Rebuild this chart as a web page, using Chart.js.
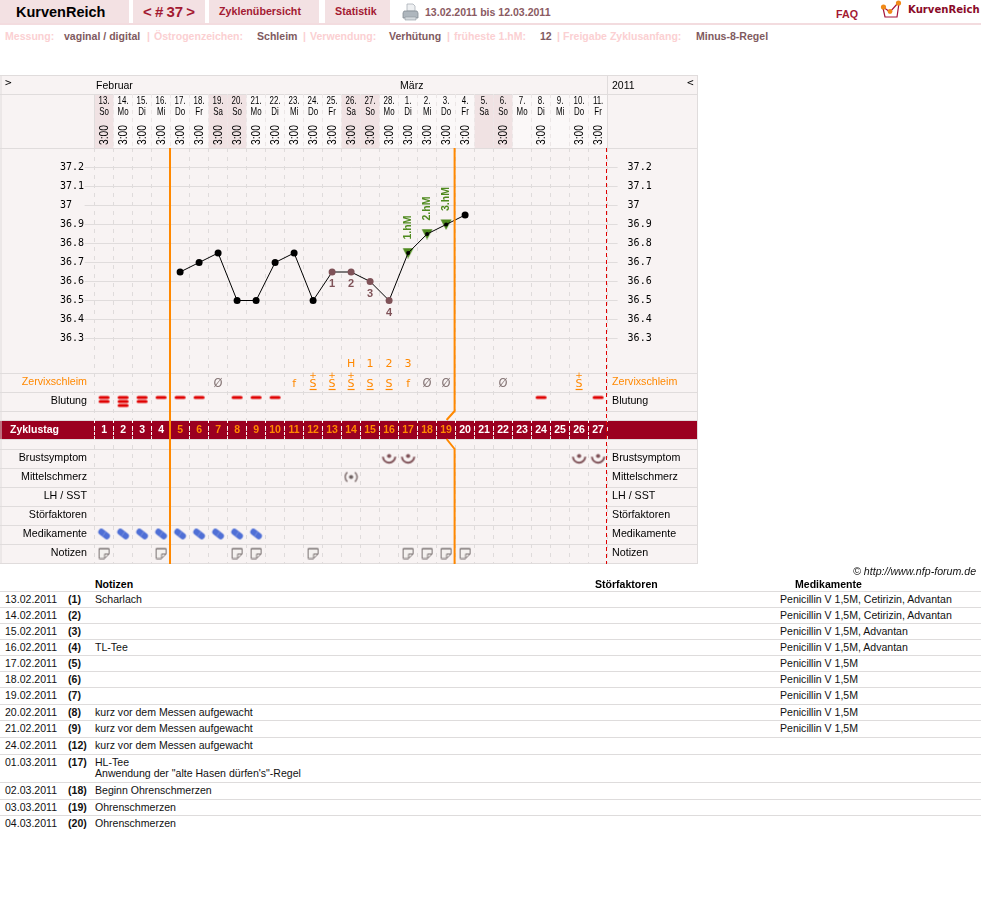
<!DOCTYPE html>
<html lang="de">
<head>
<meta charset="utf-8">
<title>KurvenReich – Zyklus 37</title>
<script src="https://cdn.jsdelivr.net/npm/chart.js@4"></script>
<style>
  html, body { margin: 0; padding: 0; background: #fff; }
  body { width: 981px; height: 897px; position: relative; overflow: hidden;
         font-family: "Liberation Sans", Arial, sans-serif; }
  .abs { position: absolute; white-space: nowrap; line-height: 1; }
  .tab { position: absolute; top: 0; height: 23px; background: #f3e1e3; }
  .rule { position: absolute; left: 0; width: 981px; height: 1px; background: #dedcdc; }
  #chartBox { position: absolute; left: 0; top: 75px; width: 698px; height: 496px; }
  canvas { display: block; }
</style>
</head>
<body>
<div class="tab" style="left:0;width:129px"></div>
<div class="tab" style="left:133px;width:72px"></div>
<div class="tab" style="left:209px;width:110px"></div>
<div class="tab" style="left:325px;width:65px"></div>
<div class="abs" style="left:0;top:23px;width:981px;height:2px;background:#f3dcdf"></div>
<svg class="abs" style="left:402px;top:3px" width="17" height="18" viewBox="0 0 17 18">
  <path d="M5 1h6l2 2v5H5z" fill="#eef0f2" stroke="#a9b0b8" stroke-width=".8"/>
  <path d="M2 8h13l1 2v5H1v-5z" fill="#aeb6bd" stroke="#858d95" stroke-width=".8"/>
  <path d="M3 14h11v3H3z" fill="#d4d9dd" stroke="#8f979e" stroke-width=".6"/>
</svg>
<svg class="abs" style="left:880px;top:0" width="24" height="20" viewBox="0 0 24 20">
  <path d="M3 8 L5 17 H17 L19 3" fill="#fff" stroke="#a5123a" stroke-width="1.2"/>
  <path d="M3 7 L10 12 L18 3" fill="none" stroke="#a5123a" stroke-width="1.2"/>
  <circle cx="3.5" cy="7" r="2.6" fill="#f08a18"/><circle cx="10" cy="11.5" r="2.4" fill="#f08a18"/><circle cx="18.5" cy="3" r="2.6" fill="#f08a18"/>
</svg>
<div id="pageText"></div>
<div id="chartBox"><canvas id="cycleChart" width="698" height="496"></canvas></div>
<div id="noteTable"></div>

<script>
// Cycle days, one entry per column
const dayOfMonth = ['13.','14.','15.','16.','17.','18.','19.','20.','21.','22.','23.','24.','25.','26.','27.','28.','1.','2.','3.','4.','5.','6.','7.','8.','9.','10.','11.'];
const weekdays = ['So','Mo','Di','Mi','Do','Fr','Sa','So','Mo','Di','Mi','Do','Fr','Sa','So','Mo','Di','Mi','Do','Fr','Sa','So','Mo','Di','Mi','Do','Fr'];
const measureTimes = ['3:00','3:00','3:00','3:00','3:00','3:00','3:00','3:00','3:00','3:00','3:00','3:00','3:00','3:00','3:00','3:00','3:00','3:00','3:00','3:00','','3:00','','3:00','','3:00','3:00'];
const cycleDays = [1,2,3,4,5,6,7,8,9,10,11,12,13,14,15,16,17,18,19,20,21,22,23,24,25,26,27];
const temperatures = [null,null,null,null,36.65,36.7,36.75,36.5,36.5,36.7,36.75,36.5,36.65,36.65,36.6,36.5,36.75,36.85,36.9,36.95,null,null,null,null,null,null,null];
const temperatureTicks = [37.2,37.1,37,36.9,36.8,36.7,36.6,36.5,36.4,36.3];

// Per-day observations
const highCount = [0,0,0,0,0,0,0,0,0,0,0,0,1,2,3,4,0,0,0,0,0,0,0,0,0,0,0];
const highMarks = ['','','','','','','','','','','','','','','','','1.hM','2.hM','3.hM','','','','','','','',''];
const peakMarks = ['','','','','','','','','','','','','','H','1','2','3','','','','','','','','','',''];
const mucus = ['','','','','','','Ø','','','','f','S+','S+','S+','S','S','f','Ø','Ø','','','Ø','','','','S+',''];
const bleeding = [2,3,2,1,1,1,0,1,1,1,0,0,0,0,0,0,0,0,0,0,0,0,0,1,0,0,1];
const breastSymptom = [0,0,0,0,0,0,0,0,0,0,0,0,0,0,0,1,1,0,0,0,0,0,0,0,0,1,1];
const midPain = [0,0,0,0,0,0,0,0,0,0,0,0,0,1,0,0,0,0,0,0,0,0,0,0,0,0,0];
const medication = [1,1,1,1,1,1,1,1,1,0,0,0,0,0,0,0,0,0,0,0,0,0,0,0,0,0,0];
const noted = [1,0,0,1,0,0,0,1,1,0,0,1,0,0,0,0,1,1,1,1,0,0,0,0,0,0,0];
const weekendDays = [1,7,8,14,15,21,22];

// Row captions and month captions
const rowCaptions = ['Zervixschleim','Blutung','Brustsymptom','Mittelschmerz','LH / SST','Störfaktoren','Medikamente','Notizen'];
const months = ['Februar','März'];
const monthStartDays = [1,17];

// Notes table below the chart
const noteDates = ['13.02.2011','14.02.2011','15.02.2011','16.02.2011','17.02.2011','18.02.2011','19.02.2011','20.02.2011','21.02.2011','24.02.2011','01.03.2011','02.03.2011','03.03.2011','04.03.2011'];
const noteCycleDays = ['(1)','(2)','(3)','(4)','(5)','(6)','(7)','(8)','(9)','(12)','(17)','(18)','(19)','(20)'];
const noteTexts = ['Scharlach','','','TL-Tee','','','','kurz vor dem Messen aufgewacht','kurz vor dem Messen aufgewacht','kurz vor dem Messen aufgewacht',
  'HL-Tee<br>Anwendung der "alte Hasen dürfen\'s"-Regel','Beginn Ohrenschmerzen','Ohrenschmerzen','Ohrenschmerzen'];
const noteMeds = ['Penicillin V 1,5M, Cetirizin, Advantan','Penicillin V 1,5M, Cetirizin, Advantan','Penicillin V 1,5M, Advantan','Penicillin V 1,5M, Advantan','Penicillin V 1,5M','Penicillin V 1,5M','Penicillin V 1,5M','Penicillin V 1,5M','Penicillin V 1,5M','','','','',''];

// ---- page layout ----
const sans = '"Liberation Sans", Arial, sans-serif';
const mono = '"DejaVu Sans Mono", monospace';
const dejavu = '"DejaVu Sans", sans-serif';
const C = { bg:'#f8f3f3', plain:'#fbf8f8', weekend:'#f0e2e3', line:'#e0dcdc', band:'#9b0020',
            orange:'#ff8800', brown:'#7f5258', grey:'#857575', red:'#e00000', green:'#4f8a1f', blue:'#4f6fd6' };

function put(parent, left, top, text, css) {
  const el = document.createElement('div');
  el.className = 'abs';
  el.style.cssText = 'left:' + left + 'px;top:' + top + 'px;' + css;
  el.innerHTML = text;
  parent.appendChild(el);
}
const headerText = document.getElementById('pageText');
const tabRed = 'color:#a31a32;font-weight:bold;';
put(headerText, 16, 5, 'KurvenReich', 'font-size:14.5px;font-weight:bold;color:#000');
put(headerText, 143, 4, '&lt; # 37 &gt;', tabRed + 'font-size:15px;word-spacing:-1px');
put(headerText, 219, 6, 'Zyklenübersicht', tabRed + 'font-size:10.7px');
put(headerText, 335, 6, 'Statistik', tabRed + 'font-size:10.7px');
put(headerText, 425, 7, '13.02.2011 bis 12.03.2011', 'font-size:10.55px;font-weight:bold;color:#8a5a62');
put(headerText, 836, 9, 'FAQ', tabRed + 'font-size:10.7px');
put(headerText, 908, 5, 'KurvenReich', 'font-family:\'DejaVu Sans\';font-size:10.1px;font-weight:bold;color:#8a0a28');
const infoLabel = 'font-size:10.55px;font-weight:bold;color:#fbd0d2';
const infoValue = 'font-size:10.55px;font-weight:bold;color:#7f5a60';
[[5,'Messung:',0],[64,'vaginal / digital',1],[147,'|',0],[154,'Östrogenzeichen:',0],[257,'Schleim',1],[303,'|',0],[310,'Verwendung:',0],[389,'Verhütung',1],[447,'|',0],
 [454,'früheste 1.hM:',0],[540,'12',1],[557,'|',0],[563,'Freigabe Zyklusanfang:',0],[696,'Minus-8-Regel',1]]
  .forEach(([x, t, isValue]) => put(headerText, x, 31, t, isValue ? infoValue : infoLabel));

const tableBox = document.getElementById('noteTable');
const rowRules = [591,607,623,639,655,671,687,704,720,737,754,782,799,815];
const cellFont = 'font-size:10.55px;color:#111;';
put(tableBox, 95, 579, 'Notizen', 'font-size:10.55px;font-weight:bold');
put(tableBox, 595, 579, 'Störfaktoren', 'font-size:10.55px;font-weight:bold');
put(tableBox, 795, 579, 'Medikamente', 'font-size:10.55px;font-weight:bold');
put(tableBox, 853, 566, '© http://www.nfp-forum.de', 'font-size:10.65px;font-style:italic;color:#111');
noteDates.forEach((date, i) => {
  const top = rowRules[i];
  const rule = document.createElement('div');
  rule.className = 'rule';
  rule.style.top = top + 'px';
  tableBox.appendChild(rule);
  put(tableBox, 5, top + 3, date, cellFont);
  put(tableBox, 68, top + 3, noteCycleDays[i], cellFont + 'font-weight:bold');
  put(tableBox, 95, top + 3, noteTexts[i], cellFont + 'line-height:11px');
  put(tableBox, 780, top + 3, noteMeds[i], cellFont);
});

// ---- symbols used as point styles ----
function icon(w, h, paint) {
  const c = document.createElement('canvas');
  c.width = w; c.height = h;
  const g = c.getContext('2d');
  g.translate(w / 2, h / 2);
  paint(g);
  return c;
}
const triangleIcon = icon(12, 11, g => {
  g.fillStyle = C.green;
  g.beginPath(); g.moveTo(-5.5, -5); g.lineTo(5.5, -5); g.lineTo(0, 5.5); g.closePath(); g.fill();
});
const pillIcon = icon(15, 13, g => {
  g.strokeStyle = C.blue; g.lineCap = 'round'; g.lineWidth = 6.4;
  g.beginPath(); g.moveTo(-2.6, -2); g.lineTo(2.6, 2); g.stroke();
  g.strokeStyle = '#7f95df'; g.lineCap = 'butt'; g.lineWidth = 0.8;
  g.beginPath(); g.moveTo(1.8, -2.6); g.lineTo(-1.8, 2.6); g.stroke();
});
const noteIcon = icon(13, 13, g => {
  g.fillStyle = '#f4f1ef'; g.strokeStyle = '#7a7272'; g.lineWidth = 1;
  g.beginPath(); g.moveTo(-5, -4.5); g.lineTo(5, -4.5); g.lineTo(5, 1); g.lineTo(0.5, 5.5); g.lineTo(-5, 5.5); g.closePath(); g.fill(); g.stroke();
  g.beginPath(); g.moveTo(-5, -4); g.lineTo(5, -4); g.stroke();
  g.beginPath(); g.moveTo(0.5, 5.5); g.lineTo(0.5, 1); g.lineTo(5, 1); g.stroke();
});
const breastIcon = icon(17, 15, g => {
  g.strokeStyle = C.brown; g.fillStyle = C.brown; g.lineWidth = 2;
  g.beginPath(); g.arc(0, -1.5, 6.2, 0.05, Math.PI - 0.05); g.stroke();
  g.beginPath(); g.arc(0, -2, 2.1, 0, Math.PI * 2); g.fill();
});
const midPainIcon = icon(15, 15, g => {
  g.strokeStyle = C.grey; g.fillStyle = '#6f6363'; g.lineWidth = 1.6;
  g.beginPath(); g.arc(0, 0, 6, -0.9, 0.9); g.stroke();
  g.beginPath(); g.arc(0, 0, 6, Math.PI - 0.9, Math.PI + 0.9); g.stroke();
  g.beginPath(); g.arc(0, 0, 2.1, 0, Math.PI * 2); g.fill();
});
function bleedIcon(count) {
  return icon(13, 15, g => {
    g.strokeStyle = C.red; g.lineCap = 'round'; g.lineWidth = 3;
    for (let k = 0; k < count; k++) {
      const y = -3.5 + k * 4;
      g.beginPath(); g.moveTo(-4, y); g.lineTo(4, y); g.stroke();
    }
  });
}
const bleedIcons = [null, bleedIcon(1), bleedIcon(2), bleedIcon(3)];

// ---- chart geometry ----
const plotTop = 73, plotHeight = 416;          // plot area inside the canvas
const pxPerDegree = 190, refTemp = 37.2, refOffset = 19.5;
const tempMax = refTemp + refOffset / pxPerDegree;
const tempMin = tempMax - plotHeight / pxPerDegree;
const rowRulesChart = [225,244,263,272,291,301,320,339,358,377,396,415];   // offsets from the plot top
const rowMid = { zervix: 234, blutung: 253, brust: 310, mittel: 329, lh: 348, stoer: 367, med: 386, notiz: 405 };

const rowsAt = (flags, row) => flags.map(v => (v ? row : null));
const iconSet = (flags, row, style) => ({
  yAxisID: 'rows', data: rowsAt(flags, row), showLine: false, pointStyle: style,
  pointRadius: 6, pointHoverRadius: 6, order: 5
});

const tablePlugin = {
  id: 'cycleTable',
  beforeDraw(chart) {
    const { ctx, width, chartArea: a, scales: { x, rows } } = chart;
    const colL = i => x.getPixelForValue(i - 0.5);
    ctx.save();
    ctx.fillStyle = C.bg; ctx.fillRect(0, 0, width, a.bottom);
    // day header cells
    cycleDays.forEach((d, i) => {
      ctx.fillStyle = weekendDays.includes(d) ? C.weekend : C.plain;
      ctx.fillRect(colL(i), 19, 19, a.top - 19);
    });
    // cycle day band
    ctx.fillStyle = C.band;
    ctx.fillRect(0, rows.getPixelForValue(272.5), width, 19);
    // table rules
    ctx.strokeStyle = C.line; ctx.lineWidth = 1;
    const hline = y => { ctx.beginPath(); ctx.moveTo(0, y); ctx.lineTo(width, y); ctx.stroke(); };
    hline(0.5); hline(19.5); hline(a.top + 0.5);
    rowRulesChart.forEach(off => hline(Math.round(rows.getPixelForValue(off)) + 0.5));
    const vline = (px, y0, y1) => { ctx.beginPath(); ctx.moveTo(px, y0); ctx.lineTo(px, y1); ctx.stroke(); };
    vline(1, 0, a.bottom); vline(width - 0.5, 0, a.bottom);
    vline(Math.floor(a.left) + 0.5, 19, a.top);
    vline(Math.floor(a.right) + 0.5, 0, a.top);
    ctx.strokeStyle = '#ebe6e6';
    ctx.setLineDash([4, 4]);
    for (let i = 1; i < cycleDays.length; i++) vline(Math.floor(colL(i)) + 0.5, 19, a.top);
    ctx.restore();
  },
  afterDatasetsDraw(chart) {
    const { ctx, chartArea: a, scales: { x, rows } } = chart;
    const cx = i => x.getPixelForValue(i);
    const ry = v => rows.getPixelForValue(v);
    ctx.save();
    ctx.textBaseline = 'middle';

    // cycle phase boundaries
    ctx.strokeStyle = C.orange; ctx.lineWidth = 2;
    const boundaryA = cx(3.5) - 0.6, boundaryB = cx(18.5) - 1;
    ctx.beginPath(); ctx.moveTo(boundaryA, a.top); ctx.lineTo(boundaryA, a.bottom); ctx.stroke();
    ctx.beginPath(); ctx.moveTo(boundaryB, a.top); ctx.lineTo(boundaryB, ry(263)); ctx.lineTo(boundaryB - 8, ry(272)); ctx.stroke();
    ctx.beginPath(); ctx.moveTo(boundaryB - 8, ry(291)); ctx.lineTo(boundaryB, ry(301)); ctx.lineTo(boundaryB, a.bottom); ctx.stroke();

    // end of cycle marker
    ctx.strokeStyle = C.red; ctx.lineWidth = 1; ctx.setLineDash([4, 3]);
    ctx.beginPath(); ctx.moveTo(Math.floor(a.right) - 0.5, a.top); ctx.lineTo(Math.floor(a.right) - 0.5, a.bottom); ctx.stroke();

    // dashes and day numbers inside the band
    ctx.strokeStyle = '#fff'; ctx.setLineDash([3, 3]);
    cycleDays.forEach((d, i) => {
      const px = Math.floor(cx(i - 0.5)) + 0.5;
      ctx.beginPath(); ctx.moveTo(px, ry(272)); ctx.lineTo(px, ry(291)); ctx.stroke();
    });
    ctx.setLineDash([]);
    ctx.lineWidth = 2; ctx.strokeStyle = C.orange;
    ctx.beginPath(); ctx.moveTo(boundaryA, ry(272)); ctx.lineTo(boundaryA, ry(291)); ctx.stroke();
    ctx.textAlign = 'center';
    ctx.font = 'bold 10.5px ' + sans;
    cycleDays.forEach((d, i) => {
      ctx.fillStyle = d >= 5 && d <= 19 ? C.orange : '#fff';
      ctx.fillText(String(d), cx(i), ry(282));
    });
    ctx.fillStyle = '#fff'; ctx.textAlign = 'left';
    ctx.fillText('Zyklustag', 10, ry(282));

    // column header captions
    ctx.fillStyle = '#000'; ctx.font = '10.5px ' + sans;
    months.forEach((m, i) => ctx.fillText(m, cx(monthStartDays[i] - 1.5) + 1.5, 11));
    ctx.fillText('2011', 612, 11);
    ctx.font = '11px ' + mono;
    ctx.fillText('>', 5, 8.5);
    ctx.fillText('<', 687, 8.5);
    ctx.textAlign = 'center';
    // date and weekday captions are set condensed
    cycleDays.forEach((d, i) => {
      ctx.save();
      ctx.translate(cx(i), 26);
      ctx.scale(0.72, 1);
      ctx.font = '11px ' + sans;
      ctx.fillText(dayOfMonth[i], 0, 0);
      ctx.fillText(weekdays[i], 0, 10.5);
      ctx.restore();
      if (measureTimes[i]) {
        ctx.save();
        ctx.translate(cx(i) - 0.3, 60);
        ctx.rotate(-Math.PI / 2);
        ctx.scale(0.76, 1);
        ctx.font = '13.5px ' + sans;
        ctx.fillText(measureTimes[i], 0, 0);
        ctx.restore();
      }
    });

    // row captions on both sides
    const mids = [rowMid.zervix, rowMid.blutung, rowMid.brust, rowMid.mittel, rowMid.lh, rowMid.stoer, rowMid.med, rowMid.notiz];
    ctx.font = '10.7px ' + sans;
    rowCaptions.forEach((label, i) => {
      ctx.fillStyle = i === 0 ? C.orange : '#000';
      ctx.textAlign = 'right';
      ctx.fillText(label, 87, ry(mids[i]));
      ctx.textAlign = 'left';
      ctx.fillText(label, 612, ry(mids[i]));
    });

    // temperature point annotations
    const tempMeta = chart.getDatasetMeta(0);
    ctx.textAlign = 'center';
    ctx.font = 'bold 11px ' + sans;
    ctx.fillStyle = C.brown;
    highCount.forEach((n, i) => {
      if (n) ctx.fillText(String(n), cx(i), tempMeta.data[i].y + 12);
    });
    ctx.font = 'bold 10.5px ' + sans;
    ctx.fillStyle = C.green;
    highMarks.forEach((t, i) => {
      if (!t) return;
      ctx.save();
      ctx.translate(cx(i), tempMeta.data[i].y - 13.5);
      ctx.rotate(-Math.PI / 2);
      ctx.textAlign = 'left';
      ctx.fillText(t, 0, 0);
      ctx.restore();
    });

    // peak day sequence
    ctx.fillStyle = C.orange; ctx.font = '11px ' + dejavu; ctx.textAlign = 'center';
    peakMarks.forEach((t, i) => { if (t) ctx.fillText(t, cx(i), ry(216)); });

    // cervical mucus codes
    const muY = ry(236);
    mucus.forEach((t, i) => {
      if (!t) return;
      const px = cx(i);
      if (t === 'Ø') { ctx.fillStyle = C.grey; ctx.font = '11.5px ' + dejavu; ctx.fillText(t, px, muY); return; }
      ctx.fillStyle = C.orange; ctx.strokeStyle = C.orange; ctx.lineWidth = 1.2;
      ctx.font = '11px ' + dejavu;
      ctx.fillText(t[0], px, t[0] === 'S' ? muY + 0.5 : muY);
      if (t[0] === 'S') {
        ctx.beginPath(); ctx.moveTo(px - 3.5, muY + 5.5); ctx.lineTo(px + 3.5, muY + 5.5); ctx.stroke();
      }
      if (t.endsWith('+')) {
        ctx.font = '9px ' + dejavu;
        ctx.fillText('+', px, muY - 8);
      }
    });
    ctx.restore();
  }
};

const brownDays = highCount.map(n => n > 0);
const noVerticalMargin = s => { s.paddingTop = 0; s.paddingBottom = 0; };
const tempScaleBase = {
  type: 'linear', min: tempMin, max: tempMax, bounds: 'data',
  afterBuildTicks(s) { s.ticks = temperatureTicks.map(value => ({ value })); },
  border: { display: false }
};
new Chart(document.getElementById('cycleChart'), {
  type: 'line',
  plugins: [tablePlugin],
  data: {
    labels: dayOfMonth.map((d, i) => d + ' ' + weekdays[i]),
    datasets: [
      { yAxisID: 'temp', data: temperatures, borderColor: '#000', borderWidth: 1, tension: 0, fill: false, spanGaps: false, order: 1,
        pointStyle: 'circle', pointBorderWidth: 0,
        pointRadius: ctx => (highMarks[ctx.dataIndex] ? 2 : 3.5), pointHoverRadius: 3.5,
        pointBackgroundColor: ctx => (brownDays[ctx.dataIndex] ? C.brown : '#000') },
      { yAxisID: 'temp', data: temperatures.map((t, i) => (highMarks[i] ? t : null)), showLine: false,
        pointStyle: triangleIcon, pointRadius: 6, pointHoverRadius: 6, order: 2 },
      { yAxisID: 'rows', data: bleeding.map(n => (n ? rowMid.blutung : null)), showLine: false, order: 5,
        pointStyle: ctx => bleedIcons[bleeding[ctx.dataIndex]] || false, pointRadius: 6, pointHoverRadius: 6 },
      iconSet(breastSymptom, rowMid.brust, breastIcon),
      iconSet(midPain, rowMid.mittel, midPainIcon),
      iconSet(medication, rowMid.med, pillIcon),
      iconSet(noted, rowMid.notiz, noteIcon)
    ]
  },
  options: {
    responsive: false,
    animation: false,
    events: [],
    layout: { padding: { left: 60, right: 0, top: 0, bottom: 0 } },
    plugins: { legend: { display: false }, tooltip: { enabled: false } },
    scales: {
      x: {
        type: 'category', position: 'top', offset: true,
        afterFit(s) { s.height = plotTop; s.paddingLeft = 0; s.paddingRight = 0; },
        border: { display: false, dash: [4, 5] },
        grid: { offset: true, drawTicks: false, color: c => (c.index === cycleDays.length ? 'transparent' : '#dfdbdb') },
        ticks: { display: false }
      },
      temp: {
        ...tempScaleBase, position: 'left',
        afterFit(s) { s.width = 34.6; noVerticalMargin(s); },
        grid: { color: C.line, tickColor: C.line, tickLength: 10, drawTicks: true },
        ticks: { crossAlign: 'far', padding: 0, color: '#000', font: { family: mono, size: 10 }, callback: v => String(v) }
      },
      tempRight: {
        ...tempScaleBase, position: 'right',
        afterFit(s) { s.width = 90.4; noVerticalMargin(s); },
        grid: { drawOnChartArea: false, tickColor: C.line, tickLength: 10 },
        ticks: { crossAlign: 'near', padding: 10, color: '#000', font: { family: mono, size: 10 }, callback: v => String(v) }
      },
      rows: {
        type: 'linear', position: 'left', reverse: true, min: 0, max: plotHeight,
        afterFit(s) { s.width = 0; noVerticalMargin(s); },
        grid: { display: false }, border: { display: false }, ticks: { display: false }
      }
    }
  }
});
</script>
</body>
</html>
